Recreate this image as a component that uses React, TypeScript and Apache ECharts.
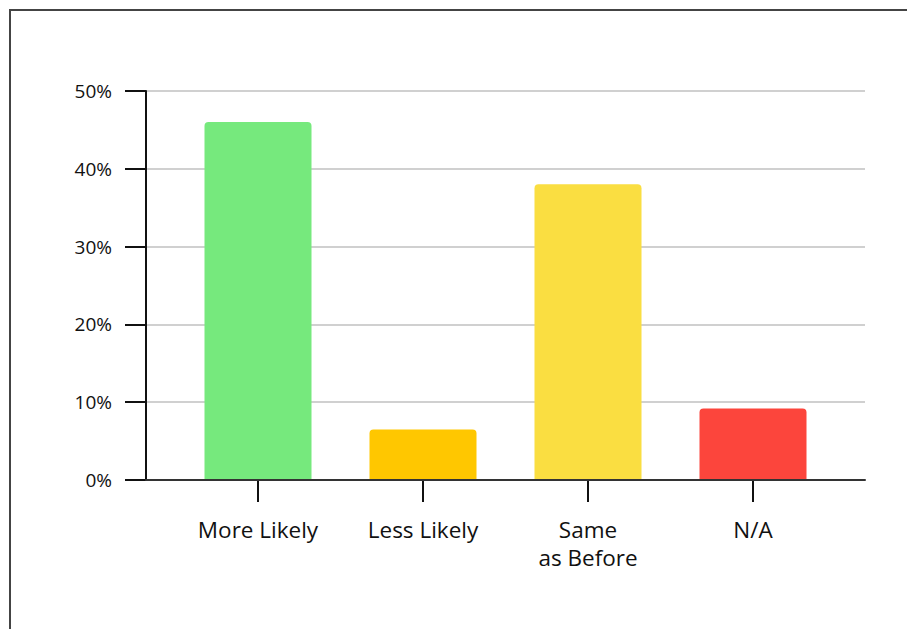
import React, { useEffect, useRef } from "react";
import * as echarts from "echarts";

const categories = ["More Likely", "Less Likely", "Same\nas Before", "N/A"];
const values = [46, 6.5, 38, 9.2];
const barColors = ["#76E97D", "#FFC700", "#FADE41", "#FC453C"];
const yTicks = { min: 0, max: 50, interval: 10 };

export default function App() {
  const ref = useRef<HTMLDivElement>(null);
  useEffect(() => {
    if (!ref.current) return;
    const chart = echarts.init(ref.current, null, { renderer: "svg" });
    const font = "'Open Sans', 'Noto Sans', sans-serif";
    chart.setOption({
      animation: false,
      backgroundColor: "#ffffff",
      graphic: [
        {
          type: "rect",
          shape: { x: 10, y: 10, width: 1000, height: 1000 },
          style: { fill: "none", stroke: "#444444", lineWidth: 2 },
          z: 100,
        },
      ],
      grid: [
        { left: 146, right: 42, top: 91, bottom: 149 },
        { left: 175.5, right: 71.5, top: 91, bottom: 149 },
      ],
      xAxis: [
        {
          type: "value",
          gridIndex: 0,
          min: 0,
          max: 1,
          axisLine: { show: true, lineStyle: { color: "#333333", width: 2 } },
          axisTick: { show: false },
          axisLabel: { show: false },
          splitLine: { show: false },
          z: 5,
        },
        {
          type: "category",
          gridIndex: 1,
          data: categories,
          axisLine: { show: false },
          axisTick: {
            show: true,
            alignWithLabel: true,
            length: 22,
            lineStyle: { color: "#111111", width: 2 },
          },
          axisLabel: {
            color: "#111111",
            fontSize: 22.5,
            fontFamily: font,
            lineHeight: 28,
            margin: 35,
            interval: 0,
          },
        },
      ],
      yAxis: [
        {
          type: "value",
          gridIndex: 0,
          min: yTicks.min,
          max: yTicks.max,
          interval: yTicks.interval,
          axisLine: { show: true, lineStyle: { color: "#111111", width: 2 } },
          axisTick: { show: true, length: 21, lineStyle: { color: "#111111", width: 2 } },
          axisLabel: {
            formatter: "{value}%",
            color: "#111111",
            fontSize: 19,
            fontFamily: font,
            margin: 34,
          },
          splitLine: { show: true, lineStyle: { color: "#d0d0d0", width: 2 } },
        },
        {
          type: "value",
          gridIndex: 1,
          min: yTicks.min,
          max: yTicks.max,
          show: false,
        },
      ],
      series: [
        {
          type: "bar",
          xAxisIndex: 1,
          yAxisIndex: 1,
          barWidth: 107,
          data: values.map((v, i) => ({
            value: v,
            itemStyle: { color: barColors[i], borderRadius: [4, 4, 0, 0] },
          })),
        },
      ],
    });
    return () => chart.dispose();
  }, []);
  return (
    <div
      ref={ref}
      style={{ position: "fixed", left: 0, top: 0, width: 907, height: 629 }}
    />
  );
}
